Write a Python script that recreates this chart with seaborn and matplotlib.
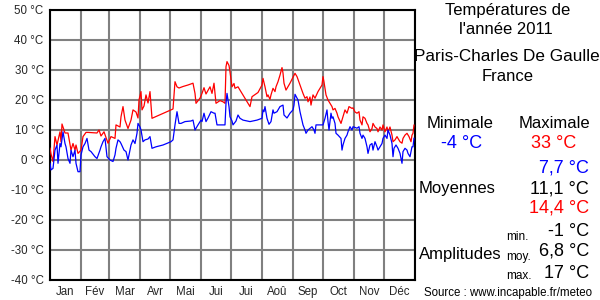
import matplotlib
matplotlib.use("Agg")
import matplotlib.pyplot as plt
import seaborn as sns
import pandas as pd

# ---- data ----
months = ["Jan", "Fév", "Mar", "Avr", "Mai", "Jui", "Jui", "Aoû", "Sep", "Oct", "Nov", "Déc"]
month_bounds = [0, 31, 59, 90, 120, 151, 181, 212, 243, 273, 304, 334, 365]
yticks = [-40, -30, -20, -10, 0, 10, 20, 30, 40, 50]

max_days = [0, 1, 3, 5, 7, 10, 11, 12, 15, 18, 21, 23, 25, 26, 28, 31, 33, 36, 38, 47, 49, 51, 54, 58, 61, 65, 66,
            70, 71, 73, 75, 78, 81, 83, 86, 88, 89, 91, 92, 94, 96, 98, 100, 102, 121, 123, 125, 127, 129, 133, 138,
            143, 145, 146, 150, 152, 154, 156, 160, 162, 164, 166, 170, 173, 175, 176, 177, 179, 180, 182, 184, 185,
            188, 190, 193, 196, 200, 202, 205, 208, 212, 213, 215, 217, 218, 220, 221, 223, 225, 226, 228, 230, 232,
            233, 234, 236, 240, 244, 245, 247, 250, 253, 255, 257, 258, 260, 261, 263, 265, 268, 272, 273, 274, 276,
            278, 282, 283, 285, 287, 288, 291, 293, 295, 297, 299, 302, 303, 305, 307, 309, 310, 312, 313, 315, 317,
            318, 320, 322, 323, 325, 327, 328, 330, 332, 333, 335, 337, 338, 340, 342, 343, 345, 347, 348, 350, 352,
            353, 355, 357, 359, 361, 362, 363, 364]
max_temps = [4, 2, -0.5, 7.8, 5, 9.4, 6, 12, 9, 9, 3.3, 5.5, 3.3, 5, 2.2, 3.3, 7.8, 9.2, 9.2, 9, 10, 8, 9.4, 5.6, 7.8,
             7.2, 11.7, 11, 14.4, 17.8, 13.3, 10.5, 13.3, 16.7, 16, 14, 20, 22.8, 16.7, 18, 21.7, 19, 22.8, 13.9,
             16.7, 17, 26.1, 24.4, 24, 24.5, 25, 25.6, 22.2, 18.9, 20.6, 22.2, 24.1, 22, 24.4, 22.2, 25.6, 18.9, 19.8,
             19.4, 18.9, 31.1, 32.8, 31.5, 29.4, 24.4, 25.5, 23.9, 24.4, 23.3, 21.7, 20, 17.8, 21.1, 21.8, 22.5, 25,
             27.2, 24.4, 21.1, 21.7, 20.2, 21.7, 23.9, 22.8, 24.4, 26.1, 28.3, 30.8, 29, 25.6, 23.3, 25.6, 28.3, 28.9,
             27.8, 25, 22.2, 20.6, 21.1, 19.4, 21, 18.3, 21.7, 20.6, 22.8, 25, 27.8, 26, 21.7, 20, 17.8, 16.7, 17.2,
             15.6, 14.4, 12.2, 14.4, 16.7, 15.6, 17.8, 17.2, 17.4, 16, 15.6, 16.1, 13.3, 11.7, 14.4, 13.9, 12.2, 11.7,
             9.4, 10.5, 12.2, 11, 10.5, 9.4, 11, 10, 11.7, 9.4, 11, 9.4, 11, 8.3, 6.1, 6.7, 7.8, 7.2, 6.1, 5.6, 7.2,
             8.3, 8.9, 7.8, 6.1, 8.3, 8.9, 11.7]

min_days = [0, 1, 3, 5, 7, 8, 10, 11, 13, 15, 16, 18, 20, 21, 23, 25, 26, 28, 30, 31, 33, 35, 37, 39, 41, 45, 47, 50,
            51, 53, 55, 57, 60, 63, 65, 66, 68, 70, 71, 74, 76, 78, 80, 81, 83, 85, 87, 88, 90, 91, 93, 95, 98, 100,
            102, 106, 113, 121, 123, 125, 127, 129, 131, 135, 141, 143, 145, 148, 151, 152, 154, 156, 158, 161, 164,
            165, 167, 171, 175, 176, 177, 179, 180, 182, 183, 186, 188, 190, 193, 200, 207, 212, 213, 214, 215, 217,
            219, 221, 223, 224, 227, 230, 233, 234, 237, 240, 243, 244, 245, 247, 248, 250, 253, 255, 256, 258, 262,
            264, 265, 266, 270, 273, 275, 277, 278, 279, 281, 282, 283, 285, 286, 288, 291, 292, 293, 295, 297, 298,
            300, 302, 303, 307, 309, 310, 312, 313, 315, 317, 318, 320, 322, 323, 325, 327, 328, 330, 332, 333, 335,
            337, 338, 340, 342, 343, 344, 346, 348, 350, 352, 353, 355, 357, 358, 360, 362, 363, 364]
min_temps = [-1, -3.3, -2.8, 3.3, 5, -1.1, 5.5, 4.4, 9.4, 5.5, 4.4, 0.5, -1.1, 3.3, 1.1, 3.3, -1.1, -3.9, -3.9, 1.7,
             4.4, 5.5, 7.2, 3.3, 2.8, 1.1, 0.5, 3.3, 4.4, 6.1, 7.2, 1.1, 0, -0.5, 1.7, 3.9, 6.7, 6.1, 5.5, 3.3, 2.8,
             0, 3.3, 5, 6.7, 5.5, 8.9, 12.2, 11, 10, 6.1, 6.7, 7, 7.8, 3.9, 4.4, 5, 6.1, 6.7, 11.7, 16.1, 12.2, 12.2,
             12.8, 13, 13.3, 10, 11.7, 13.3, 12.8, 15.6, 12.8, 14, 16.1, 15.6, 15.6, 11.7, 11.7, 11.7, 18.9, 22.2,
             17.8, 14.4, 13, 11.7, 13, 15, 13.9, 13.3, 12.8, 13.3, 13.9, 16.7, 16.1, 17.8, 13.9, 11.9, 12.8, 16.7,
             15.6, 16.1, 17.8, 18.3, 15, 14, 15.6, 16.7, 18.3, 21.9, 20.6, 20, 16.1, 11.7, 10, 8.9, 10, 11.1, 10, 8.9,
             11.7, 11.7, 11.7, 13.9, 16.7, 12.8, 10, 15.6, 13.9, 14.4, 12.2, 8.9, 8.3, 7.2, 3.3, 5, 7.2, 8.3, 9.4,
             11.1, 10, 11.1, 10.6, 11.1, 8.9, 7.2, 8.3, 7.2, 4.4, 2.2, 5, 5.5, 3.3, 6.1, 4.4, 3.3, 4.4, 5.5, 7.2, 8.3,
             7.2, 10, 8.3, 5.5, 1.1, 3.9, 5, 3.9, 2.2, -1.1, 2.8, 3.9, 3.3, 2.2, 1.1, 4.4, 4.4, 7.3]

title_lines = ["Températures de", "l'année 2011", "Paris-Charles De Gaulle", "France"]
stat_min, stat_max = "-4 °C", "33 °C"
mean_min, mean_avg, mean_max = "7,7 °C", "11,1 °C", "14,4 °C"
amp_min, amp_avg, amp_max = "-1 °C", "6,8 °C", "17 °C"
source = "Source : www.incapable.fr/meteo"

# ---- plot ----
sns.set_style("white")
plt.rcParams['font.family'] = ['Liberation Sans', 'DejaVu Sans']

fig = plt.figure(figsize=(6, 3), dpi=100)
W, H = 600, 300
ax = fig.add_axes([50 / W, 20 / H, 365 / W, 270 / H])

df_max = pd.DataFrame({"day": max_days, "temp": max_temps})
df_min = pd.DataFrame({"day": min_days, "temp": min_temps})
sns.lineplot(data=df_max, x="day", y="temp", color="#ff0000", lw=0.9, estimator=None, sort=False, ax=ax, zorder=3)
sns.lineplot(data=df_min, x="day", y="temp", color="#0000ff", lw=0.9, estimator=None, sort=False, ax=ax, zorder=3)

ax.set_xlim(0, 365)
ax.set_ylim(-40, 50)
ax.set_yticks(yticks)
ax.set_yticklabels([f"{v} °C" for v in yticks], fontsize=8.3)
ax.set_xticks(month_bounds)
ax.set_xticklabels([])
mids = [(month_bounds[i] + month_bounds[i + 1]) / 2 for i in range(12)]
ax.set_xticks(mids, minor=True)
ax.set_xticklabels(months, minor=True, fontsize=8.3)
ax.tick_params(axis="both", which="both", length=0)
ax.tick_params(axis="y", pad=4.5)
ax.tick_params(axis="x", which="minor", pad=4)
ax.grid(True, which="major", color="#808080", lw=1.5)
ax.set_axisbelow(True)
ax.set_xlabel("")
ax.set_ylabel("")
for s in ax.spines.values():
    s.set_color("black")
    s.set_linewidth(1.5)
    s.set_visible(True)

def t(x, y, s, size=12, color="black", ha="center"):
    fig.text(x / W, 1 - y / H, s, fontsize=size, color=color, ha=ha, va="center")

t(508, 10, title_lines[0])
t(506, 29, title_lines[1])
t(507, 57, title_lines[2], size=12.3)
t(508, 76, title_lines[3])
t(460, 124, "Minimale")
t(554, 124, "Maximale")
t(462, 143, stat_min, size=13, color="#0000ff")
t(554, 143, stat_max, size=13, color="#ff0000")
t(589, 168, mean_min, size=13, color="#0000ff", ha="right")
t(457, 189, "Moyennes")
t(589, 189, mean_avg, size=13, ha="right")
t(589, 208, mean_max, size=13, color="#ff0000", ha="right")
t(506, 237, "min.", size=8.5, ha="left")
t(589, 232, amp_min, size=13, ha="right")
t(460, 255, "Amplitudes")
t(506, 257, "moy.", size=8.5, ha="left")
t(589, 251, amp_avg, size=13, ha="right")
t(506, 276, "max.", size=8.5, ha="left")
t(589, 273, amp_max, size=13, ha="right")
t(508, 293, source, size=8.3)

fig.savefig("out.png", dpi=100)
